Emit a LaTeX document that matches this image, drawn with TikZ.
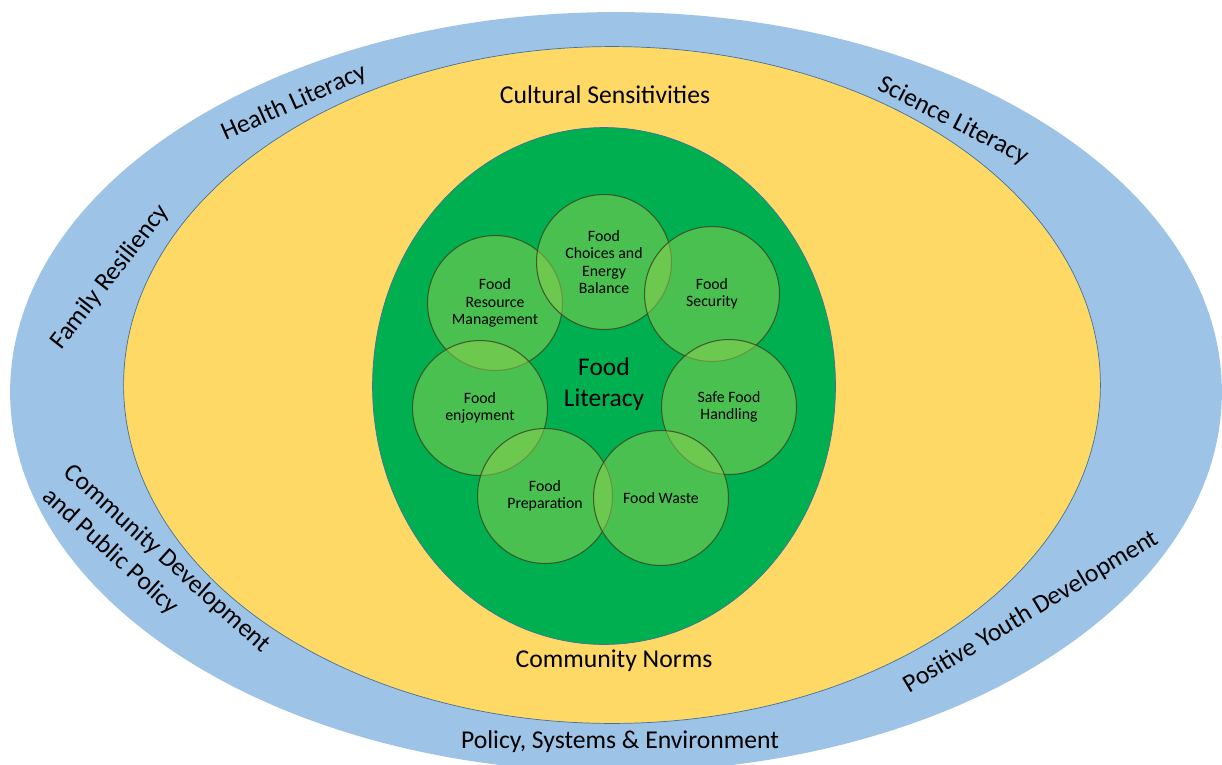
\documentclass[tikz,border=0pt]{standalone}
\usepackage{fontspec}
\setmainfont{Carlito}
\usepackage{xcolor}
\usetikzlibrary{
    shapes.geometric,
    positioning
}
\definecolor{ringblue}{HTML}{9DC3E6}
\definecolor{ringyellow}{HTML}{FFD966}
\definecolor{ringgreen}{HTML}{00B050}
\definecolor{edgeblue}{HTML}{41719C}
\definecolor{bubblefill}{HTML}{92D050}
\definecolor{bubbleedge}{HTML}{3A4A22}

\begin{document}
\begin{tikzpicture}[
        x=0.02cm, y=-0.02cm,
        ring/.style={ellipse, inner sep=0pt},
        bubble/.style={circle, inner sep=0pt, minimum size=2.7cm, fill=bubblefill, fill opacity=0.5,
            text opacity=1, draw=bubbleedge, draw opacity=0.85, line width=0.6pt,
            align=center, font=\fontsize{9}{9.8}\selectfont},
        layer/.style={font=\fontsize{14.6}{18.6}\selectfont, align=center}
    ]
        \useasboundingbox (0,0) rectangle (1222,764);
        \clip (0,0) rectangle (1222,764);

        % Rings
        \node[ring, fill=ringblue, minimum width=24.24cm, minimum height=15.2cm] (pse) at (616,392) {};
        \node[ring, fill=ringyellow, draw=edgeblue, line width=0.4pt, minimum width=19.54cm, minimum height=13.54cm] (norms) at (612,385) {};
        \node[ring, fill=ringgreen, draw=edgeblue, line width=0.4pt, minimum width=9.26cm, minimum height=10.34cm] (core) at (604,386) {};

        % Food literacy domains
        \node[bubble] (resource) at (495,303) {Food\\Resource\\Management};
        \node[bubble] (choices) at (604,262) {Food\\Choices and\\Energy\\Balance};
        \node[bubble] (security) at (712,294) {Food\\Security};
        \node[bubble] (enjoy) at (480,408) {Food\\enjoyment};
        \node[bubble] (safe) at (729,407) {Safe Food\\Handling};
        \node[bubble] (prep) at (545,496) {Food\\Preparation};
        \node[bubble] (waste) at (661,498) {Food Waste};

        \node[font=\fontsize{14.5}{17.6}\selectfont, align=center] (literacy) at (604,384) {Food\\Literacy};

        % Middle ring
        \node[layer] (cultural) at (605,95) {Cultural Sensitivities};
        \node[layer] (community) at (614,661) {Community Norms};

        % Outer ring
        \node[layer, rotate=24] (health) at (294,103) {Health Literacy};
        \node[layer, rotate=52] (family) at (110,277) {Family Resiliency};
        \node[layer, rotate=-27] (science) at (953,121) {Science Literacy};
        \node[layer, rotate=-42, align=left] (commdev) at (156,571) {Community Development\\and Public Policy};
        \node[layer, rotate=31] (youth) at (1031,612) {Positive Youth Development};
        \node[layer] (policy) at (620,742) {Policy, Systems \& Environment};
    \end{tikzpicture}
\end{document}
